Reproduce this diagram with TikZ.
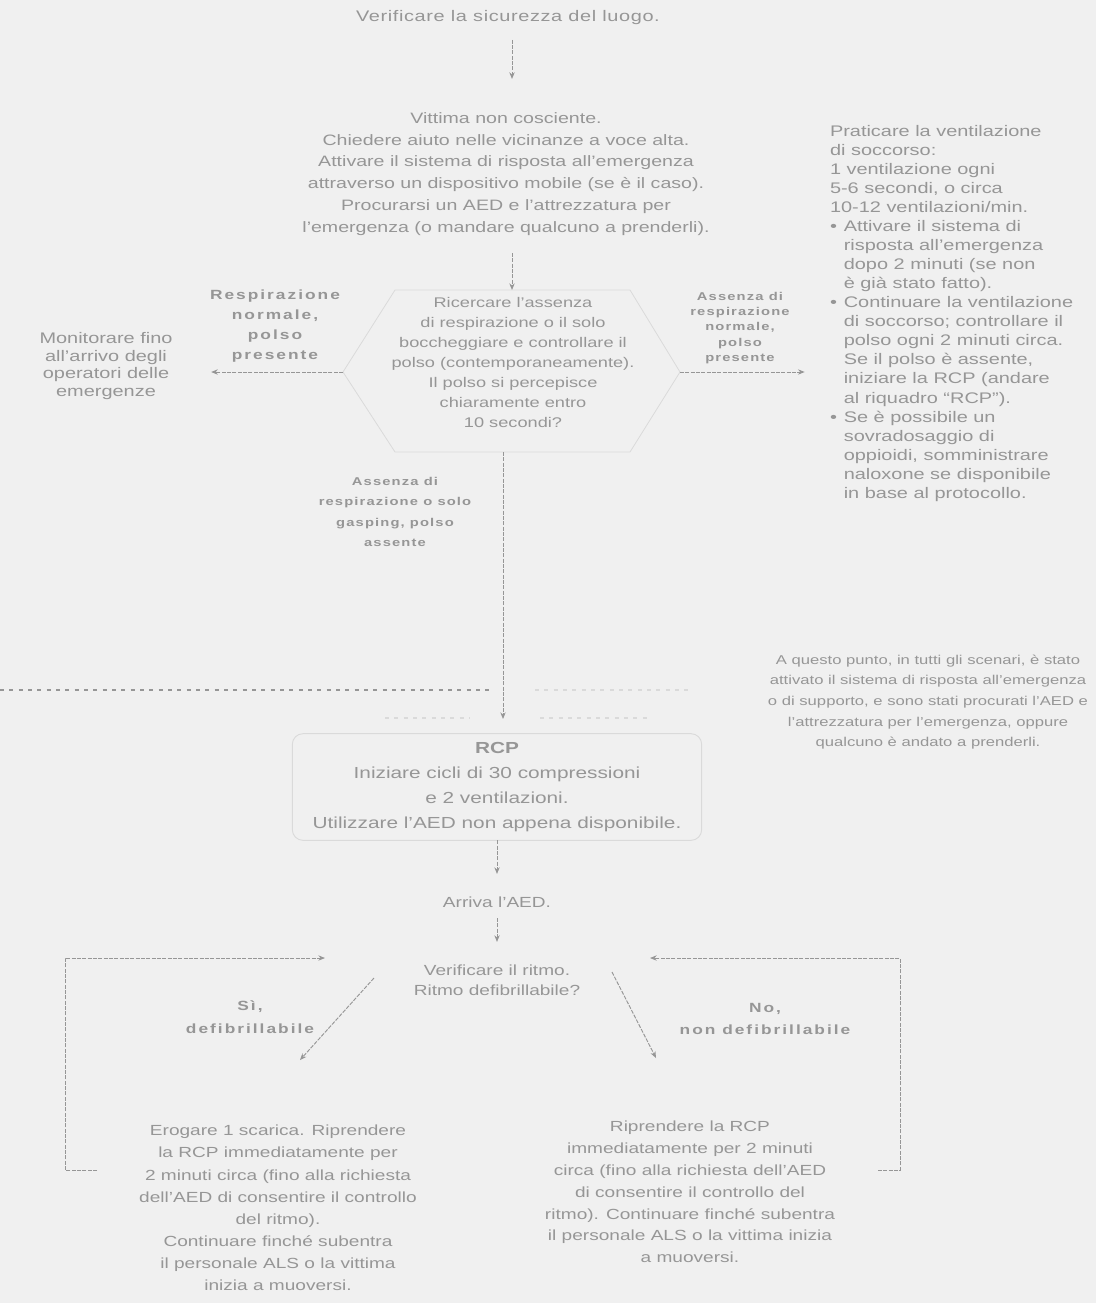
\documentclass[tikz,border=0pt]{standalone}
\usepackage{fontspec}
\setmainfont{Liberation Sans}[FakeStretch=1.3]
\usetikzlibrary{arrows.meta}
\definecolor{bgc}{RGB}{240,240,240}
\definecolor{txt}{RGB}{150,150,150}
\definecolor{lnc}{RGB}{150,150,150}
\definecolor{fnt}{RGB}{218,218,218}
\newcommand{\fsz}[2]{\fontsize{#1}{#2}\selectfont}
\newcommand{\bul}{\makebox[0.9em][l]{\textbullet}}
\newcommand{\ind}{\hspace*{0.9em}}
\begin{document}
\begin{tikzpicture}[x=0.75pt,y=-0.75pt,
  every node/.style={text=txt, inner sep=0pt, outer sep=0pt},
  body/.style={align=center},
  lblbig/.style={align=center, font=\fsz{10}{15}\bfseries\addfontfeature{LetterSpace=15}},
  arr/.style={draw=lnc, line width=0.7pt, dash pattern=on 3pt off 1pt, -{Stealth[length=5pt,width=4pt]}},
  dashln/.style={draw=lnc, line width=0.8pt, dash pattern=on 3pt off 4pt},
  shapeln/.style={draw=fnt, line width=0.6pt}]
\fill[bgc] (0,0) rectangle (1096,1303);
\useasboundingbox (0,0) rectangle (1096,1303);

% top
\node[body, font=\fsz{11.5}{14}\addfontfeature{LetterSpace=4}] (top) at (508,18) {Verificare la sicurezza del luogo.};
\node[body, font=\fsz{11.3}{16.4}] (box1) at (506,174) {Vittima non cosciente.\\Chiedere aiuto nelle vicinanze a voce alta.\\Attivare il sistema di risposta all'emergenza\\attraverso un dispositivo mobile (se è il caso).\\Procurarsi un AED e l'attrezzatura per\\l'emergenza (o mandare qualcuno a prenderli).};

% decision shape
\coordinate (hTL) at (395,290);
\coordinate (hTR) at (630,290);
\coordinate (hR) at (680,372);
\coordinate (hBR) at (630,452);
\coordinate (hBL) at (395,452);
\coordinate (hL) at (343,372);
\coordinate (hTop) at (512,290);
\coordinate (hBot) at (503,452);
\draw[shapeln] (hTL) -- (hTR) -- (hR) -- (hBR) -- (hBL) -- (hL) -- cycle;
\node[body, font=\fsz{10.5}{15}] (dia) at (513,362) {Ricercare l'assenza\\di respirazione o il solo\\boccheggiare e controllare il\\polso (contemporaneamente).\\Il polso si percepisce\\chiaramente entro\\10 secondi?};

\node[lblbig] (lblL) at (275,326) {Respirazione\\normale,\\polso\\presente};
\node[body, font=\fsz{11.5}{13.2}] (mon) at (106,366) {Monitorare fino\\all'arrivo degli\\operatori delle\\emergenze};
\node[align=center, font=\fsz{8.5}{11.3}\bfseries\addfontfeature{LetterSpace=10}] (lblR) at (740,328) {Assenza di\\respirazione\\normale,\\polso\\presente};

\node[align=left, anchor=north west, font=\fsz{11.5}{14.3}] (rtext) at (830,125) {Praticare la ventilazione\\di soccorso:\\1 ventilazione ogni\\5-6 secondi, o circa\\10-12 ventilazioni/min.\\\bul Attivare il sistema di\\\ind risposta all'emergenza\\\ind dopo 2 minuti (se non\\\ind è già stato fatto).\\\bul Continuare la ventilazione\\\ind di soccorso; controllare il\\\ind polso ogni 2 minuti circa.\\\ind Se il polso è assente,\\\ind iniziare la RCP (andare\\\ind al riquadro “RCP”).\\\bul Se è possibile un\\\ind sovradosaggio di\\\ind oppioidi, somministrare\\\ind naloxone se disponibile\\\ind in base al protocollo.};

\node[align=center, font=\fsz{8.5}{15.2}\bfseries\addfontfeature{LetterSpace=10}] (lblD) at (395,512) {Assenza di\\respirazione o solo\\gasping, polso\\assente};

% dashed band
\draw[dashln] (0,690) -- (490,690);
\draw[dashln, draw=fnt] (535,690) -- (690,690);
\draw[dashln, draw=fnt] (385,718) -- (470,718);
\draw[dashln, draw=fnt] (540,718) -- (650,718);

\node[body, font=\fsz{9.6}{15.5}] (mid) at (928,702) {A questo punto, in tutti gli scenari, è stato\\attivato il sistema di risposta all'emergenza\\o di supporto, e sono stati procurati l'AED e\\l'attrezzatura per l'emergenza, oppure\\qualcuno è andato a prenderli.};

% CPR
\node[draw=fnt, line width=0.7pt, rounded corners=8pt, minimum width=307pt, minimum height=80pt, align=center, font=\fsz{12}{18.75}] (rcp) at (497,787) {\textbf{RCP}\\Iniziare cicli di 30 compressioni\\e 2 ventilazioni.\\Utilizzare l'AED non appena disponibile.};

\node[body, font=\fsz{11}{14}] (aed) at (497,902) {Arriva l'AED.};
\node[body, font=\fsz{11}{15}] (chk) at (497,980) {Verificare il ritmo.\\Ritmo defibrillabile?};

\node[lblbig, font=\fsz{10}{17}\bfseries\addfontfeature{LetterSpace=15}] (si) at (250,1017) {Sì,\\defibrillabile};
\node[lblbig, font=\fsz{10}{17}\bfseries\addfontfeature{LetterSpace=15}] (no) at (765,1019) {No,\\non defibrillabile};

\node[body, font=\fsz{11}{16.6}] (bl) at (278,1208) {Erogare 1 scarica. Riprendere\\la RCP immediatamente per\\2 minuti circa (fino alla richiesta\\dell'AED di consentire il controllo\\del ritmo).\\Continuare finché subentra\\il personale ALS o la vittima\\inizia a muoversi.};
\node[body, font=\fsz{11}{16.4}] (br) at (690,1192) {Riprendere la RCP\\immediatamente per 2 minuti\\circa (fino alla richiesta dell'AED\\di consentire il controllo del\\ritmo). Continuare finché subentra\\il personale ALS o la vittima inizia\\a muoversi.};

% connectors
\draw[arr, shorten <=11pt, shorten >=25pt] (top.south -| hTop) -- (box1.north -| hTop);
\draw[arr, shorten <=13pt] (box1.south -| hTop) -- (hTop);
\draw[arr, shorten >=29pt] (hL) -- (hL -| mon.east);
\draw[arr, shorten >=19pt] (hR) -- (hR -| rtext.west);
\draw[arr, shorten >=11pt] (hBot) -- (hBot |- rcp.north);
\draw[arr, shorten >=17pt] (rcp.south) -- (aed.north);
\draw[arr, shorten <=8pt, shorten >=17pt] (aed.south) -- (chk.north);

\coordinate (chkL) at (374,978);
\coordinate (chkR) at (612,972);
\coordinate (dL) at (300,1060);
\coordinate (dR) at (656,1058);
\draw[arr] (chkL) -- (dL);
\draw[arr] (chkR) -- (dR);

\coordinate (lpLs) at (97,1170);
\coordinate (lpLc) at (65,958);
\coordinate (lpLe) at (325,958);
\draw[arr] (lpLs) -| (lpLc) -- (lpLe);
\coordinate (lpRs) at (878,1170);
\coordinate (lpRc) at (900,958);
\coordinate (lpRe) at (650,958);
\draw[arr] (lpRs) -| (lpRc) -- (lpRe);
\end{tikzpicture}
\end{document}
